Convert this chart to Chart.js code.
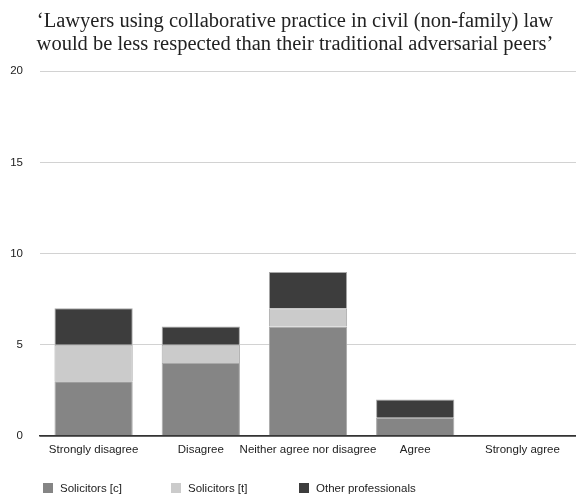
<!DOCTYPE html>
<html>
<head>
<meta charset="utf-8">
<script src="https://cdn.jsdelivr.net/npm/chart.js@4/dist/chart.umd.min.js"></script>
<style>
  html, body { margin: 0; padding: 0; background: #fff; }
  #wrap { position: relative; width: 576px; height: 499px; }
  #legend { position: absolute; left: 43px; top: 482px; display: flex;
            font: 11.5px "Liberation Sans", Arial, sans-serif; color: #222; }
  #legend .item { width: 128px; display: flex; align-items: center; }
  #legend .box { width: 10px; height: 10px; margin-right: 7px; }
</style>
</head>
<body>
<div id="wrap">
  <canvas id="chart" width="576" height="499"></canvas>
  <div id="legend"></div>
</div>
<script>
// === DATA ===
const categories = ['Strongly disagree', 'Disagree', 'Neither agree nor disagree', 'Agree', 'Strongly agree'];
const solicitorsC = [3, 4, 6, 1, 0];
const solicitorsT = [2, 1, 1, 0, 0];
const otherProfessionals = [2, 1, 2, 1, 0];
const seriesNames = ['Solicitors [c]', 'Solicitors [t]', 'Other professionals'];
const seriesColors = ['#858585', '#cbcbcb', '#3d3d3d'];
const titleLines = [
    '\u2018Lawyers using collaborative practice in civil (non-family) law',
    'would be less respected than their traditional adversarial peers\u2019'
];

const sansFont = '"Liberation Sans", Arial, sans-serif';

// nudge the title a little to the right of the canvas centre
const titleShift = {
    id: 'titleShift',
    afterLayout(chart) {
        if (chart.titleBlock) chart.titleBlock.left += 14;
    }
};

const ctx = document.getElementById('chart').getContext('2d');
const chart = new Chart(ctx, {
    type: 'bar',
    data: {
        labels: categories,
        datasets: [solicitorsC, solicitorsT, otherProfessionals].map((vals, i) => ({
            label: seriesNames[i],
            data: vals,
            backgroundColor: seriesColors[i],
            borderColor: '#a8a8a8',
            borderWidth: 1,
            categoryPercentage: 1,
            barPercentage: 0.73
        }))
    },
    options: {
        responsive: false,
        animation: false,
        layout: { padding: { bottom: 35, left: 0, right: 0 } },
        scales: {
            x: {
                stacked: true,
                grid: { display: false, drawTicks: false },
                border: { display: true, color: '#333', width: 1.5 },
                ticks: { padding: 7, color: '#222', font: { family: sansFont, size: 11.5 }, maxRotation: 0, autoSkip: false },
                afterFit: (scale) => { scale.height = 28; }
            },
            y: {
                stacked: true,
                min: 0,
                max: 20,
                ticks: { stepSize: 5, padding: 17, color: '#222', font: { family: sansFont, size: 11.5 } },
                grid: {
                    drawTicks: false,
                    color: (c) => c.tick && c.tick.value === 0 ? '#333' : '#d2d2d2',
                    lineWidth: (c) => c.tick && c.tick.value === 0 ? 1.5 : 1
                },
                border: { display: false },
                afterFit: (scale) => { scale.width = 40; }
            }
        },
        plugins: {
            legend: { display: false },
            tooltip: { enabled: false },
            title: {
                display: true,
                text: titleLines,
                color: '#222',
                font: { family: '"Liberation Serif", "DejaVu Serif", serif', size: 20.5, weight: 'normal', lineHeight: 1.08 },
                padding: { top: 11, bottom: 16 }
            }
        }
    },
    plugins: [titleShift]
});

// legend built from the datasets
const legendEl = document.getElementById('legend');
chart.data.datasets.forEach(ds => {
    const item = document.createElement('div');
    item.className = 'item';
    const box = document.createElement('span');
    box.className = 'box';
    box.style.background = ds.backgroundColor;
    const txt = document.createElement('span');
    txt.textContent = ds.label;
    item.appendChild(box);
    item.appendChild(txt);
    legendEl.appendChild(item);
});
</script>
</body>
</html>
